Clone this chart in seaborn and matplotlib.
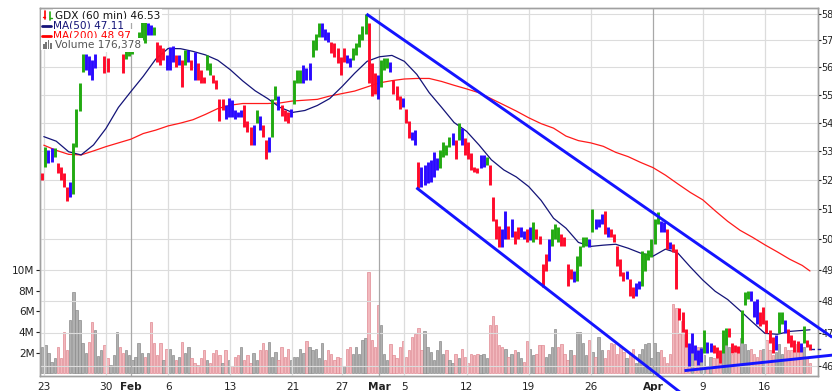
import numpy as np
import pandas as pd
import matplotlib
matplotlib.use("Agg")
import matplotlib.pyplot as plt
import seaborn as sns
from matplotlib.patches import Rectangle
from matplotlib.lines import Line2D
from matplotlib.ticker import NullLocator, FixedLocator, FixedFormatter

sns.set_style("white")
plt.rcParams['font.family'] = ['DejaVu Sans']

# ---------------- data (GDX, 60 min, 4 price bars per trading day) ----------------
bar_high = [
    52.25,
    53.14, 53.03, 53.10, 53.10,  52.58, 52.45, 52.24, 51.77,  51.93, 53.28, 54.50, 55.44,
    56.50, 56.50, 56.43, 56.26,  56.50, 57.20, 57.30, 56.43,  56.33, 57.00, 57.30, 57.70,
    57.30, 56.50, 56.90, 57.07,  57.10, 57.00, 57.30, 57.75,  57.70, 57.65, 57.60, 57.50,
    56.93, 56.81, 56.70, 56.44,  56.74, 56.80, 56.44, 56.44,  56.26, 56.63, 56.63, 56.26,
    56.55, 56.15, 55.89, 55.63,  56.44, 56.15, 55.70, 55.52,  54.86, 54.86, 54.61, 54.89,
    54.79, 54.43, 54.36, 54.43,  54.61, 54.07, 53.83, 53.90,  54.43, 54.25, 53.90, 53.38,
    53.48, 54.86, 55.33, 54.96,  54.61, 54.43, 54.36, 54.50,  55.52, 55.89, 55.89, 56.07,
    55.96, 56.15, 57.00, 57.26,  57.67, 57.67, 57.44, 57.30,  56.93, 56.89, 56.70, 56.37,
    56.70, 56.44, 56.33, 56.70,  56.89, 57.26, 57.56, 58.00,  57.67, 56.15, 55.78, 55.70,
    56.26, 56.33, 56.33, 56.19,  55.52, 55.33, 54.96, 54.89,  54.50, 54.07, 53.66, 53.72,
    52.60, 52.45, 52.52, 52.60,  52.67, 52.97, 52.76, 53.03,  53.31, 53.21, 53.48, 53.62,
    53.38, 53.97, 53.79, 53.45,  53.31, 52.93, 52.45, 52.40,  52.86, 52.86, 52.79, 52.52,
    51.40, 50.67, 50.43, 50.33,  50.93, 50.43, 50.67, 50.27,  50.40, 50.40, 50.27, 50.33,
    50.40, 50.57, 50.33, 50.10,  49.19, 49.52, 50.00, 50.33,  50.50, 50.40, 50.17, 50.07,
    49.19, 49.03, 48.97, 49.45,  49.77, 50.07, 50.07, 50.00,  51.00, 50.67, 50.67, 50.83,
    50.93, 50.40, 50.33, 50.17,  49.77, 49.35, 48.94, 48.97,  48.71, 48.45, 48.58, 48.65,
    49.61, 49.55, 49.65, 50.00,  50.67, 50.90, 50.60, 50.57,  50.33, 49.90, 49.84, 49.68,
    47.80, 47.67, 47.15, 46.70,  47.00, 46.64, 46.48, 46.55,  47.09, 46.73, 46.70, 46.64,
    46.58, 46.48, 47.09, 47.18,  47.18, 46.70, 46.64, 46.61,  47.73, 48.29, 48.32, 48.32,
    48.00, 48.06, 47.67, 47.83,  47.42, 47.09, 46.88, 46.94,  47.67, 47.67, 47.42, 47.15,
    46.94, 46.79, 46.76, 46.70,  47.24, 46.79, 46.67,
]
bar_low = [
    52.00,
    52.45, 52.58, 52.62, 52.80,  52.24, 52.00, 51.77, 51.27,  51.40, 51.50, 53.14, 54.40,
    55.81, 55.89, 55.70, 55.52,  55.96, 56.70, 56.80, 55.78,  55.81, 56.65, 56.80, 57.30,
    56.70, 55.80, 56.30, 56.43,  56.50, 56.60, 56.70, 57.00,  56.90, 57.20, 57.20, 57.20,
    56.20, 56.07, 56.26, 55.89,  55.89, 56.20, 56.00, 56.07,  55.26, 56.07, 56.19, 55.89,
    55.52, 55.52, 55.41, 55.41,  55.89, 55.70, 55.41, 55.22,  54.07, 54.43, 54.14, 54.18,
    54.18, 54.14, 54.18, 54.21,  53.83, 53.66, 53.21, 53.20,  53.97, 53.72, 53.48, 52.72,
    52.97, 53.48, 54.79, 54.43,  54.25, 54.07, 54.00, 54.18,  54.68, 55.41, 55.41, 55.44,
    55.52, 55.52, 56.37, 56.63,  57.11, 57.11, 57.00, 56.93,  56.52, 56.37, 56.15, 55.70,
    56.19, 56.15, 56.00, 56.26,  56.44, 56.74, 57.00, 57.26,  55.41, 54.96, 55.04, 54.86,
    55.26, 55.89, 55.96, 55.81,  55.04, 54.79, 54.50, 54.54,  53.97, 53.45, 53.38, 53.21,
    51.73, 51.77, 51.83, 51.90,  51.93, 52.10, 52.33, 52.40,  52.79, 52.86, 53.14, 53.21,
    52.72, 53.38, 53.21, 52.86,  52.72, 52.33, 52.28, 52.24,  52.40, 52.45, 52.52, 51.83,
    50.60, 50.00, 49.74, 49.74,  50.00, 50.00, 50.07, 49.84,  50.00, 50.07, 50.00, 49.90,
    49.97, 49.90, 50.00, 49.84,  48.45, 48.97, 49.29, 49.77,  50.00, 49.90, 49.77, 49.77,
    48.48, 48.71, 48.61, 48.65,  49.13, 49.74, 49.77, 49.74,  50.23, 50.33, 50.40, 50.50,
    50.17, 50.07, 50.07, 49.90,  49.13, 48.81, 48.65, 48.71,  48.16, 48.10, 48.16, 48.39,
    48.48, 48.97, 49.32, 49.42,  49.84, 50.50, 50.23, 50.23,  49.68, 49.68, 49.58, 48.39,
    47.42, 47.03, 46.58, 46.00,  46.39, 46.18, 46.03, 46.12,  46.39, 46.39, 46.42, 46.39,
    46.24, 46.09, 46.39, 46.64,  46.88, 46.39, 46.42, 46.39,  46.70, 47.90, 48.06, 48.00,
    47.52, 47.30, 47.24, 47.30,  47.00, 46.70, 46.39, 46.48,  47.00, 47.30, 47.00, 46.70,
    46.58, 46.42, 46.42, 46.42,  46.70, 46.58, 46.48,
]
# g = up impulse, r = down impulse, b = neutral
bar_color = "".join([
    "r",
    "gbbg", "rrrr", "bggg", "gbbb", "bbgr", "rggg", "rrgg", "gbgg", "gbbg", "rrrb",
    "bbrb", "rgbr", "brrr", "ggrr", "rrbb", "bbbb", "rrrb", "gbrr", "bggb", "rrrb",
    "gggb", "bbgg", "gbbb", "rrrr", "rbbg", "gggg", "rrrb", "gggb", "rrrb", "rrbb",
    "rbbb", "bbbg", "gggb", "rgbr", "rrrr", "bbgr", "rrrb", "brbr", "rbbr", "bgrr",
    "rrbg", "ggrr", "rrbg", "gggb", "gbbb", "rbrr", "rrrb", "rrbb", "gggg", "ggbb",
    "rbrr", "rrrb", "bbbb", "gbbr", "rrgg", "rrrr", "gggb", "bbrr", "rrrb", "ggbr",
    "rrrb", "grr",
])
volume_m = [
    2.6,
    2.7, 2.0, 1.1, 1.5,  2.6, 1.5, 4.0, 2.3,  5.2, 7.9, 6.1, 5.2,  2.9, 2.0, 3.0, 5.0,
    4.2, 1.7, 2.3, 2.7,  1.5, 0.8, 1.8, 4.0,  2.6, 2.0, 2.3, 1.8,  1.3, 1.6, 2.9, 2.0,
    1.6, 2.0, 5.0, 2.9,  1.8, 2.9, 1.3, 2.4,  2.4, 1.8, 1.3, 1.6,  3.0, 2.0, 2.6, 1.5,
    1.0, 0.8, 1.5, 2.3,  1.3, 1.0, 2.0, 2.3,  1.8, 1.0, 2.3, 1.3,  0.7, 1.6, 1.8, 2.6,
    1.3, 1.8, 1.0, 2.0,  1.3, 2.3, 2.9, 2.3,  3.0, 1.6, 2.1, 1.3,  2.6, 1.6, 2.4, 1.3,
    1.6, 1.6, 2.4, 2.0,  3.1, 2.6, 2.3, 2.4,  1.5, 2.9, 1.3, 2.3,  1.9, 1.3, 1.6, 1.5,
    0.7, 2.4, 2.6, 1.9,  2.6, 1.9, 3.2, 3.4,  9.8, 3.2, 2.6, 6.6,  4.7, 1.9, 1.3, 2.8,
    1.8, 1.5, 2.6, 3.1,  1.6, 2.3, 3.5, 3.8,  4.4, 2.3, 4.1, 2.6,  2.1, 1.3, 2.3, 3.1,
    1.9, 2.3, 1.3, 1.0,  1.9, 1.5, 2.4, 1.6,  1.0, 1.9, 1.8, 1.9,  1.8, 1.9, 1.5, 4.7,
    5.6, 4.7, 2.7, 2.6,  2.4, 1.6, 1.9, 2.3,  2.1, 1.5, 1.1, 3.1,  2.4, 1.8, 1.9, 2.7,
    2.7, 1.6, 1.9, 2.6,  4.3, 2.6, 2.8, 1.9,  1.3, 2.3, 1.8, 4.0,  4.0, 2.9, 1.8, 3.2,
    2.1, 1.6, 3.5, 2.3,  1.5, 2.3, 2.9, 2.8,  1.9, 2.6, 2.1, 1.5,  1.9, 2.4, 1.0, 1.9,
    2.4, 2.8, 2.9, 1.5,  2.9, 2.1, 2.3, 1.6,  1.0, 1.9, 6.7, 6.3,  3.8, 5.1, 3.7, 2.6,
    2.3, 1.9, 2.6, 2.6,  1.8, 0.7, 1.6, 1.5,  1.5, 1.0, 2.3, 3.4,  2.6, 1.9, 2.1, 2.6,
    3.4, 2.8, 2.3, 2.4,  1.9, 1.6, 2.3, 2.4,  3.2, 2.3, 1.8, 2.1,  2.8, 1.9, 2.6, 2.3,
    2.3, 2.3, 2.8, 2.6,  2.6, 1.6, 1.0,
]
# moving averages at the start of each trading day (day 0 = Jan 23)
ma50 = [
    53.50, 53.34, 52.97, 52.86, 53.21, 53.79, 54.54, 55.11, 55.67, 56.30,
    56.70, 56.69, 56.59, 56.46, 56.26, 55.91, 55.50, 55.14, 54.86, 54.54,
    54.36, 54.43, 54.61, 54.86, 55.30, 55.78, 56.22, 56.39, 56.44, 56.22,
    55.74, 55.07, 54.54, 54.00, 53.69, 53.21, 52.69, 52.34, 52.10, 51.77,
    51.30, 50.70, 50.37, 49.90, 49.77, 49.81, 49.84, 49.71, 49.55, 49.45,
    49.68, 49.55, 49.10, 48.68, 48.32, 48.06, 47.71, 47.35, 47.00, 46.97,
    47.06, 47.09,
]
ma200 = [
    53.20, 53.02, 52.88, 52.86, 53.00, 53.15, 53.28, 53.41, 53.61, 53.73,
    53.88, 53.98, 54.10, 54.29, 54.50, 54.62, 54.68, 54.68, 54.68, 54.70,
    54.77, 54.80, 54.83, 54.95, 55.04, 55.13, 55.28, 55.43, 55.51, 55.57,
    55.59, 55.59, 55.48, 55.34, 55.21, 55.07, 54.85, 54.63, 54.41, 54.17,
    53.96, 53.80, 53.52, 53.36, 53.28, 53.16, 52.95, 52.80, 52.60, 52.42,
    52.16, 51.86, 51.57, 51.32, 50.95, 50.60, 50.30, 50.07, 49.82, 49.59,
    49.35, 49.15,
]
last_close = 46.53
ma50_last = 47.11
ma200_last = 48.97
last_volume = "176,378"

tick_days = [0, 5, 7, 10, 15, 20, 24, 27, 29, 34, 39, 44, 49, 53, 58]
tick_labels = ["23", "30", "Feb", "6", "13", "21", "27", "Mar", "5", "12", "19", "26", "Apr", "9", "16"]
month_labels = {"Feb", "Mar", "Apr"}
price_ticks = [46, 47, 48, 49, 50, 51, 52, 53, 54, 55, 56, 57, 58]
vol_ticks = [2, 4, 6, 8, 10]

# trendlines drawn by the analyst: (trading day, price)
trend_upper = [(25.95, 58.0), (63.41, 46.88)]
trend_lower = [(29.97, 51.73), (51.99, 44.98)]
trend_support = [(51.53, 45.86), (63.41, 46.33)]

# ---------------- build ----------------
n = min(len(bar_high), len(bar_low), len(bar_color), len(volume_m))
hi = np.array(bar_high[:n]); lo = np.array(bar_low[:n]); vol = np.array(volume_m[:n])
t = -0.125 + 0.25 * np.arange(n)
mid = (hi + lo) / 2
down = np.r_[False, mid[1:] < mid[:-1]]

W, H = 832, 391
fig = plt.figure(figsize=(W / 100, H / 100), dpi=100)
ax = fig.add_axes([40 / W, 15 / H, 778 / W, 368 / H])
axv = ax.twinx()
axv.set_zorder(ax.get_zorder() - 1)
ax.patch.set_visible(False)
axv.patch.set_facecolor("white")

x0, x1 = -0.306, 62.27
ax.set_yscale("log")
ax.set_xlim(x0, x1)
ax.set_ylim(45.698, 58.23)
axv.set_ylim(-0.25, 35.34)

# volume
vcols = np.where(down, "#f2b8bd", "#b0b0b0")
vedge = np.where(down, "#e08a93", "#8c8c8c")
axv.bar(t, vol, width=0.19, color=vcols, edgecolor=vedge, linewidth=0.5, zorder=2)

# grid
for p in price_ticks:
    ax.axhline(p, color="#dcdcdc", lw=0.8, zorder=0)
for d, lab in zip(tick_days, tick_labels):
    ax.axvline(d, color="#a8a8a8" if lab in month_labels else "#dcdcdc", lw=0.9, zorder=0)

# price bars
cmap = {"g": "#22aa11", "r": "#ff0a2a", "b": "#2a0aff"}
ax.vlines(t, lo, hi, colors=[cmap[c] for c in bar_color[:n]], lw=2.1, zorder=4)

# moving averages (seaborn)
ma_t = list(range(len(ma50))) + [t[-1]]
df_ma = pd.DataFrame({"t": ma_t, "MA50": ma50 + [ma50_last], "MA200": ma200 + [ma200_last]})
sns.lineplot(data=df_ma, x="t", y="MA200", ax=ax, color="#ff1a1a", lw=0.9, zorder=3, legend=False)
sns.lineplot(data=df_ma, x="t", y="MA50", ax=ax, color="#141478", lw=0.9, zorder=3, legend=False)

# last price dashed marker
ax.plot([t[-1] + 0.1, x1 + 0.4], [last_close, last_close], color="#1a1aa0", lw=1.0,
        ls=(0, (2.5, 2.0)), zorder=5, clip_on=False)

# trendlines
for seg in (trend_upper, trend_lower, trend_support):
    (ta, pa), (tb, pb) = seg
    ax.plot([ta, tb], [pa, pb], color="#1414ff", lw=2.1, zorder=6, clip_on=False,
            solid_capstyle="butt")

# axes cosmetics
ax.set_xlabel(""); ax.set_ylabel(""); axv.set_ylabel("")
ax.yaxis.tick_right()
ax.yaxis.set_minor_locator(NullLocator())
ax.yaxis.set_major_locator(FixedLocator(price_ticks))
ax.yaxis.set_major_formatter(FixedFormatter([str(p) for p in price_ticks]))
ax.tick_params(axis="y", which="both", right=True, left=False, length=2, pad=0.3,
               labelsize=6.9, colors="#222222", width=0.8)
ax.set_xticks(tick_days)
ax.set_xticklabels(tick_labels)
for lab in ax.get_xticklabels():
    if lab.get_text() in month_labels:
        lab.set_fontweight("bold")
        lab.set_fontsize(8.3)
ax.tick_params(axis="x", length=2, pad=2, labelsize=7.6, colors="#222222", width=0.8)

axv.yaxis.tick_left()
axv.set_yticks(vol_ticks)
axv.set_yticklabels([f"{v}M" for v in vol_ticks])
axv.tick_params(axis="y", left=True, right=False, length=3, pad=1, labelsize=7.6,
                colors="#222222", width=0.8)
axv.tick_params(axis="x", bottom=False, labelbottom=False)

for a in (ax, axv):
    for s in a.spines.values():
        s.set_color("#a0a0a0")
        s.set_linewidth(1.0)

# legend block (top-left)
def fx(x):
    return x / W

def fy(y):
    return 1 - y / H

fig.add_artist(Rectangle((fx(41), fy(50)), (54 - 41) / W, 40 / H, transform=fig.transFigure,
                         facecolor="white", edgecolor="none", zorder=8))
fs = 7.6
bb = dict(facecolor="white", edgecolor="none", pad=1.2)
fig.text(fx(55), fy(16), f"GDX (60 min) {last_close:.2f}", fontsize=fs, color="#111111",
         va="center", ha="left", bbox=bb, zorder=9)
fig.text(fx(53), fy(26), f"MA(50) {ma50_last:.2f}", fontsize=fs, color="#141478",
         va="center", ha="left", bbox=bb, zorder=9)
fig.text(fx(53), fy(35.5), f"MA(200) {ma200_last:.2f}", fontsize=fs, color="#ff0000",
         va="center", ha="left", bbox=bb, zorder=9)
fig.text(fx(55), fy(45), f"Volume {last_volume}", fontsize=fs, color="#555555",
         va="center", ha="left", bbox=bb, zorder=9)
# icons
fig.add_artist(Line2D([fx(45), fx(45)], [fy(11), fy(19)], color="#ff0000", lw=1.2, zorder=10))
fig.add_artist(Line2D([fx(43), fx(45)], [fy(17), fy(17)], color="#ff0000", lw=1.0, zorder=10))
fig.add_artist(Line2D([fx(50), fx(50)], [fy(12), fy(20)], color="#22aa11", lw=1.2, zorder=10))
fig.add_artist(Line2D([fx(50), fx(52)], [fy(18), fy(18)], color="#22aa11", lw=1.0, zorder=10))
fig.add_artist(Line2D([fx(42), fx(51)], [fy(26), fy(26)], color="#141478", lw=2.0, zorder=10))
fig.add_artist(Line2D([fx(42), fx(51)], [fy(35.5), fy(35.5)], color="#ff0000", lw=2.0, zorder=10))
for k, h in enumerate([5, 7, 9, 6]):
    fig.add_artist(Rectangle((fx(43 + 2.3 * k), fy(49)), 1.6 / W, h / H, transform=fig.transFigure,
                             facecolor="#777777", edgecolor="none", zorder=10))

fig.savefig("out.png", dpi=100, facecolor="white")
